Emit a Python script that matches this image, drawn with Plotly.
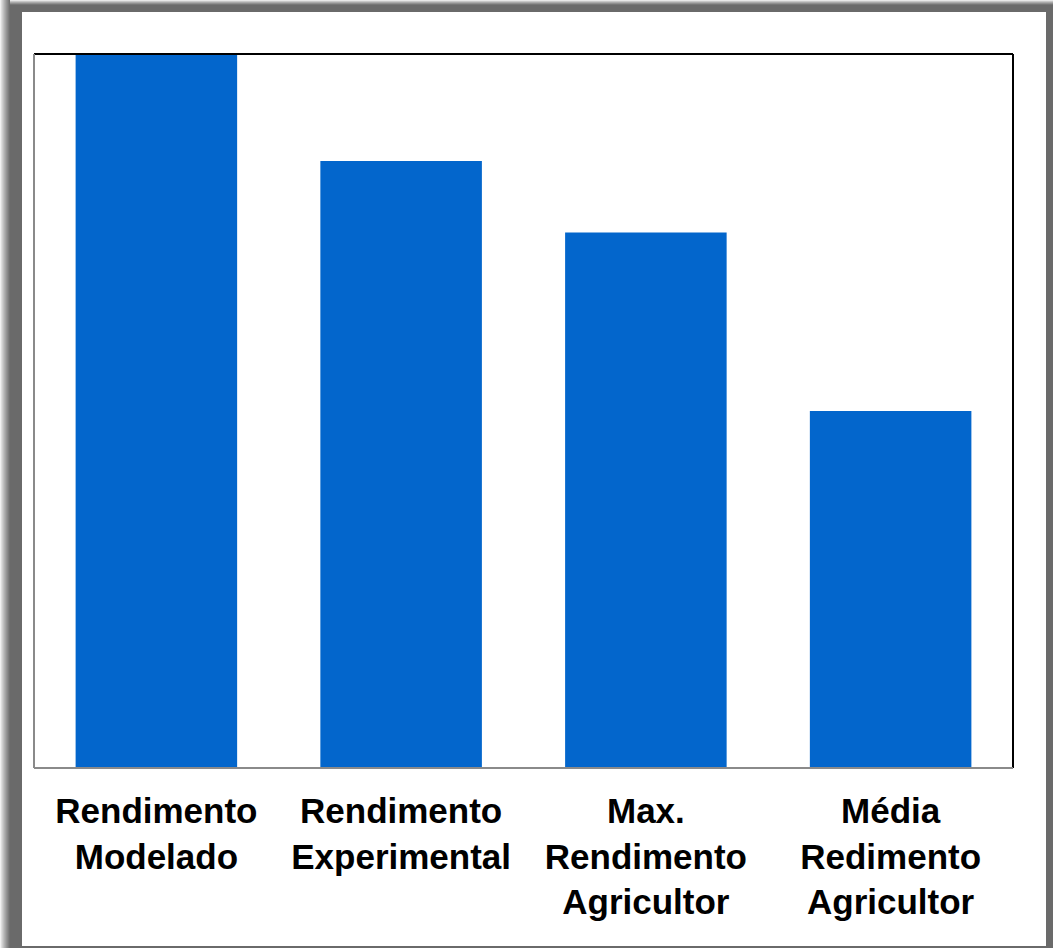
import plotly.graph_objects as go

categories = [
    "Rendimento<br>Modelado",
    "Rendimento<br>Experimental",
    "Max.<br>Rendimento<br>Agricultor",
    "Média<br>Redimento<br>Agricultor",
]
values = [10.0, 8.5, 7.5, 5.0]

W, H = 1053, 948
PL, PR, PT, PB = 34, 1013, 54, 768


def px(x):
    return (x - PL) / (PR - PL)


def py(y):
    return (PB - y) / (PB - PT)


def mix(t):
    # t=0 -> white, t=1 -> dark gray
    c0, c1 = 255, 106
    v = int(round(c0 + (c1 - c0) * t))
    return f"rgb({v},{v},{v})"


shapes = []
# dark gray frame base
shapes.append(dict(type="rect", xref="paper", yref="paper", layer="below",
                   x0=px(0), x1=px(W), y0=py(0), y1=py(H),
                   fillcolor=mix(1), line=dict(width=0)))
# left fade
nL = 10
for i in range(nL):
    t = (i + 0.5) / nL
    shapes.append(dict(type="rect", xref="paper", yref="paper", layer="below",
                       x0=px(i), x1=px(i + 1), y0=py(0), y1=py(H),
                       fillcolor=mix(t ** 0.8), line=dict(width=0)))
# top fade
nT = 5
for i in range(nT):
    t = (i + 0.5) / nT
    shapes.append(dict(type="rect", xref="paper", yref="paper", layer="below",
                       x0=px(nL), x1=px(W), y0=py(i), y1=py(i + 1),
                       fillcolor=mix(t ** 0.8), line=dict(width=0)))
# white panel
shapes.append(dict(type="rect", xref="paper", yref="paper", layer="below",
                   x0=px(22), x1=px(1046), y0=py(12), y1=py(946),
                   fillcolor="white", line=dict(width=0)))
# plot frame lines
shapes.append(dict(type="line", xref="paper", yref="paper", layer="above",
                   x0=0, x1=1, y0=1, y1=1, line=dict(color="black", width=2)))
shapes.append(dict(type="line", xref="paper", yref="paper", layer="above",
                   x0=1, x1=1, y0=0, y1=1, line=dict(color="black", width=2)))
shapes.append(dict(type="line", xref="paper", yref="paper", layer="above",
                   x0=0, x1=0, y0=0, y1=1, line=dict(color="#8a8a8a", width=2)))
shapes.append(dict(type="line", xref="paper", yref="paper", layer="above",
                   x0=0, x1=1, y0=0, y1=0, line=dict(color="#8a8a8a", width=2)))

fig = go.Figure(go.Bar(x=categories, y=values, marker=dict(color="#0366CC", line=dict(width=0)),
                       width=0.66))

fig.update_layout(
    width=W, height=H,
    margin=dict(l=PL, r=W - PR, t=PT, b=H - PB, pad=0),
    paper_bgcolor="white", plot_bgcolor="white",
    showlegend=False,
    shapes=shapes,
    font=dict(family="Liberation Sans, Arial, sans-serif", color="black"),
    xaxis=dict(showline=False, showgrid=False, zeroline=False, ticks="",
               tickfont=dict(size=35, family="Liberation Sans, Arial, sans-serif",
                             color="black", weight="bold"),
               ticklabelstandoff=19),
    yaxis=dict(range=[0, 10], showline=False, showgrid=False, zeroline=False,
               showticklabels=False, ticks=""),
)

fig.write_html("out.html")
